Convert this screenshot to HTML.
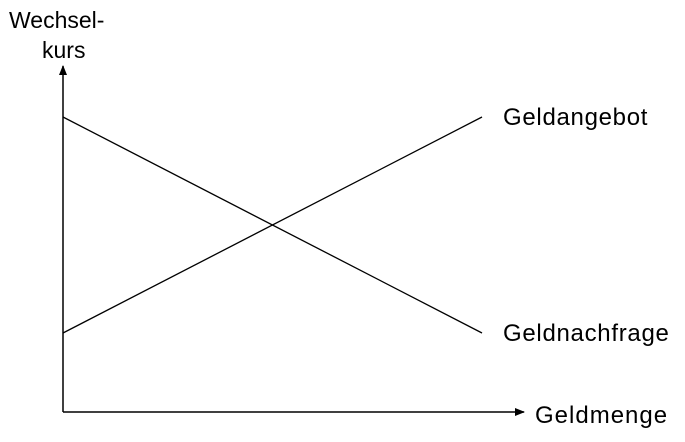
<!DOCTYPE html>
<html><head><meta charset="utf-8"><style>
html,body{margin:0;padding:0;background:#fff;}
svg{display:block;font-family:"Liberation Sans",Arial,sans-serif;}
</style></head><body>
<svg id="chart" width="685" height="442" viewBox="0 0 685 442">
<defs><marker id="arr" markerWidth="10" markerHeight="8" refX="9" refY="4" orient="auto" markerUnits="userSpaceOnUse"><path d="M0,0 L10,4 L0,8 Z" fill="#000"/></marker></defs>
<g id="axes">
<line x1="63" y1="412" x2="63" y2="66" stroke="#000" stroke-width="1.5" marker-end="url(#arr)"/>
<line x1="63" y1="412" x2="524" y2="412" stroke="#000" stroke-width="1.5" marker-end="url(#arr)"/>
<text x="9" y="28" font-size="23">Wechsel-</text>
<text x="42" y="58" font-size="23">kurs</text>
<text x="535" y="423" font-size="24" letter-spacing="1">Geldmenge</text>
</g>
<g id="series"></g>
</svg>
<script>
const seriesNames = ["Geldangebot", "Geldnachfrage"];
const startValues = [2, 8];
const endValues = [8, 2];
const xDomain = [0, 10];
function xs(v){ return 63 + (v - xDomain[0]) / (xDomain[1]-xDomain[0]) * 419; }
function ys(v){ return 405 - v * 36; }
const g = document.getElementById('series');
const ns = 'http://www.w3.org/2000/svg';
seriesNames.forEach((name, i) => {
  const l = document.createElementNS(ns, 'line');
  
  
  l.setAttribute('x1', xs(xDomain[0])); l.setAttribute('y1', ys(startValues[i]));
  l.setAttribute('x2', xs(xDomain[1])); l.setAttribute('y2', ys(endValues[i]));
  l.setAttribute('stroke', '#000'); l.setAttribute('stroke-width', '1.3');
  g.appendChild(l);
  const t = document.createElementNS(ns, 'text');
  
  
  t.setAttribute('x', xs(xDomain[1]) + 21);
  t.setAttribute('y', ys(endValues[i]) + 8);
  t.setAttribute('font-size', '24');
  t.setAttribute('letter-spacing', '0.7');
  t.textContent = name;
  g.appendChild(t);
});
</script>
</body></html>
